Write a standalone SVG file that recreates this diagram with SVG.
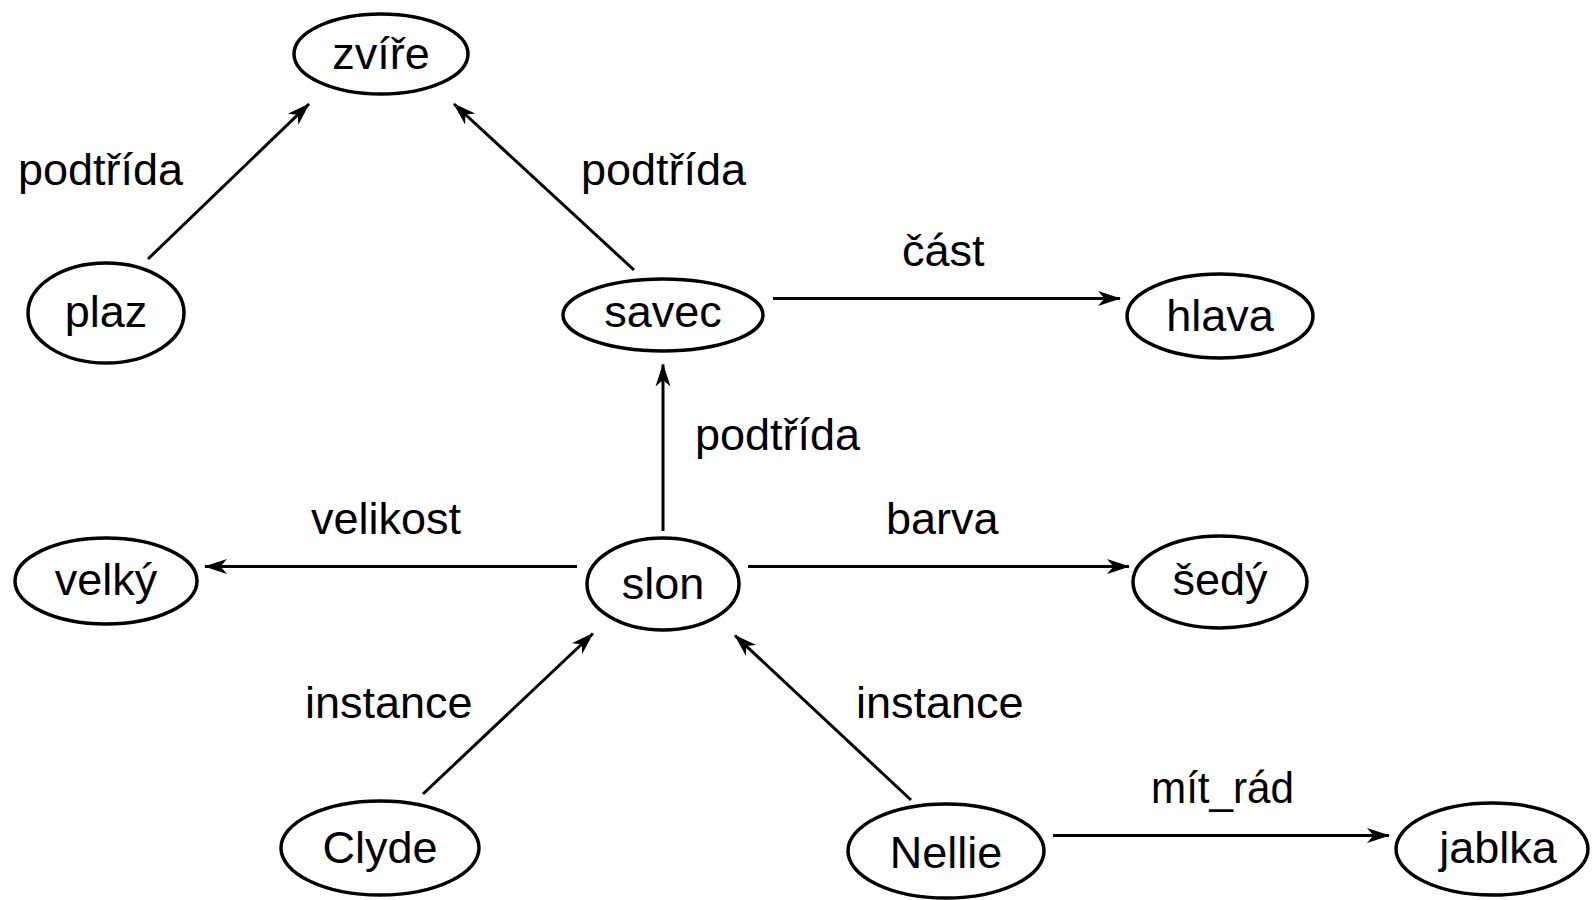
<svg xmlns="http://www.w3.org/2000/svg" width="1592" height="900" viewBox="0 0 1592 900">
<defs>
<style>
.n ellipse{fill:#fff;stroke:#000;stroke-width:3.5}
text{font-family:"Liberation Sans",Arial,sans-serif;font-size:45px;fill:#000}
.n text{text-anchor:middle}
.e line{stroke:#000;stroke-width:3;marker-end:url(#a)}
</style>
<marker id="a" markerUnits="userSpaceOnUse" markerWidth="24" markerHeight="18" refX="22" refY="9" orient="auto">
<path d="M0,1.5 L23,9 L0,16.5 L6.5,9 Z" fill="#000"/>
</marker>
</defs>
<g id="edges" class="e">
<line x1="148" y1="259" x2="309" y2="104"/>
<line x1="634" y1="270" x2="454" y2="104"/>
<line x1="773" y1="298.5" x2="1120" y2="298.5"/>
<line x1="663" y1="531" x2="663" y2="364.5"/>
<line x1="577" y1="566.5" x2="205" y2="566.5"/>
<line x1="748" y1="566.5" x2="1129" y2="566.5"/>
<line x1="423" y1="794" x2="593" y2="633.5"/>
<line x1="911" y1="800" x2="735" y2="635.5"/>
<line x1="1053" y1="835.6" x2="1389" y2="835.6"/>
</g>
<g id="edge-labels">
<text x="18" y="185">podtřída</text>
<text x="581" y="185">podtřída</text>
<text x="902" y="266">část</text>
<text x="695" y="450">podtřída</text>
<text x="311" y="534">velikost</text>
<text x="886" y="534">barva</text>
<text x="305" y="718">instance</text>
<text x="856" y="718">instance</text>
<text x="1151" y="803" textLength="143" lengthAdjust="spacingAndGlyphs">mít_rád</text>
</g>
<g id="zvire" class="n"><ellipse cx="381" cy="54" rx="87" ry="40"/><text x="381" y="69">zvíře</text></g>
<g id="plaz" class="n"><ellipse cx="106" cy="313" rx="78" ry="50"/><text x="106" y="327">plaz</text></g>
<g id="savec" class="n"><ellipse cx="663" cy="315" rx="100" ry="36"/><text x="663" y="327">savec</text></g>
<g id="hlava" class="n"><ellipse cx="1220" cy="316" rx="93" ry="42"/><text x="1220" y="331">hlava</text></g>
<g id="velky" class="n"><ellipse cx="106" cy="581" rx="91" ry="43"/><text x="106" y="595">velký</text></g>
<g id="slon" class="n"><ellipse cx="663" cy="584" rx="76" ry="46"/><text x="663" y="599">slon</text></g>
<g id="sedy" class="n"><ellipse cx="1220" cy="582" rx="87" ry="46"/><text x="1220" y="595">šedý</text></g>
<g id="clyde" class="n"><ellipse cx="380" cy="848" rx="99" ry="47"/><text x="380" y="863">Clyde</text></g>
<g id="nellie" class="n"><ellipse cx="946" cy="851" rx="98" ry="47"/><text x="946" y="868">Nellie</text></g>
<g id="jablka" class="n"><ellipse cx="1492" cy="849" rx="96" ry="46"/><text x="1498" y="863">jablka</text></g>
</svg>
